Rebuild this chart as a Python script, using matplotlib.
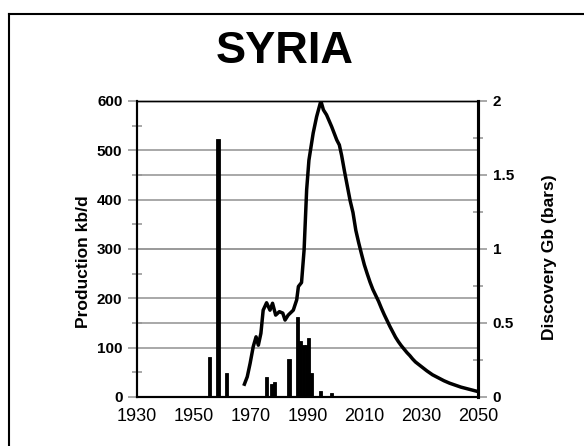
import matplotlib
matplotlib.use("Agg")
import matplotlib.pyplot as plt
from matplotlib.lines import Line2D
from matplotlib.ticker import MultipleLocator

plt.rcParams['font.family'] = ['Liberation Sans', 'DejaVu Sans']

# Production (kb/d)
prod_years = [1967.8, 1968.8, 1969.8, 1970.9, 1971.9, 1972.7, 1973.6, 1974.4, 1975.6,
              1976.8, 1977.7, 1978.8, 1980.1, 1981.3, 1982.1, 1983.2, 1985.0, 1986.2,
              1986.8, 1987.9, 1988.8, 1989.7, 1990.5, 1992.0, 1993.2, 1994.7, 1995.6,
              1996.7, 1998.5, 2000.3, 2001.2, 2002, 2003, 2004, 2005, 2006, 2007,
              2008, 2009, 2010, 2011, 2012, 2013, 2014, 2015, 2016, 2017, 2018, 2019,
              2020, 2021, 2022, 2023, 2024, 2025, 2026, 2027, 2028, 2030, 2032, 2034,
              2036, 2038, 2040, 2042, 2044, 2046, 2048, 2050]
prod_values = [26, 41, 68, 102, 122, 105, 129, 176, 191,
               176, 190, 166, 173, 170, 156, 166, 176, 197,
               224, 232, 298, 420, 480, 535, 568, 600, 582,
               572, 548, 521, 511, 490, 458, 428, 398, 374, 338,
               313, 290, 268, 250, 233, 218, 206, 194, 180, 167, 155, 143,
               132, 121, 112, 104, 97, 90, 84, 77, 71, 62, 53, 45,
               39, 33, 28, 24, 20, 17, 14, 11]

# Discoveries (Gb) by year
disc_years = [1948, 1955, 1958, 1961, 1963, 1966, 1968, 1973, 1975, 1977, 1978,
              1979, 1980, 1981, 1982, 1983, 1984, 1986, 1987, 1988, 1989, 1990,
              1991, 1992, 1994, 1996, 1998, 1999]
disc_values = [0.006, 0.27, 1.74, 0.165, 0.006, 0.006, 0.006, 0.006, 0.133, 0.09, 0.103,
               0.01, 0.01, 0.01, 0.01, 0.255, 0.01, 0.538, 0.38, 0.35, 0.35, 0.396,
               0.164, 0.006, 0.043, 0.006, 0.025, 0.006]

x_ticks = [1930, 1950, 1970, 1990, 2010, 2030, 2050]
left_ticks = [0, 100, 200, 300, 400, 500, 600]
right_ticks = [0, 0.5, 1, 1.5, 2]
right_labels = ['0', '0.5', '1', '1.5', '2']

W, H = 584, 446
fig = plt.figure(figsize=(W / 100, H / 100), dpi=100)
ax = fig.add_axes([137 / W, 1 - 397 / H, (478 - 137) / W, (397 - 101) / H])
ax2 = ax.twinx()
ax.set_zorder(ax2.get_zorder() + 1)
ax.patch.set_visible(False)

grid_col = '#999999'
# bars on the right axis
ax2.bar([y + 0.5 for y in disc_years], disc_values, width=1.1, color='black',
        edgecolor='black', linewidth=0.6, zorder=3)
ax2.set_ylim(0, 2)
ax2.set_yticks(right_ticks)
ax2.set_yticklabels(right_labels)
ax2.yaxis.set_minor_locator(MultipleLocator(0.25))
for v in right_ticks[1:-1]:
    ax2.axhline(v, color=grid_col, lw=1.2, zorder=1)
for v in left_ticks[1:-1]:
    ax2.axhline(v * 2 / 600, color=grid_col, lw=1.2, zorder=1)

# production on the left axis
ax.plot(prod_years, prod_values, color='black', lw=2.5, solid_joinstyle='round', zorder=4)
ax.set_xlim(1930, 2050)
ax.set_ylim(0, 600)
ax.set_xticks(x_ticks)
ax.set_yticks(left_ticks)
ax.yaxis.set_minor_locator(MultipleLocator(50))

ax.tick_params(axis='x', length=0, pad=8, labelsize=13)
ax.tick_params(axis='y', which='major', direction='out', length=6.5, width=1.2,
               color=grid_col, pad=4, labelsize=11)
ax.tick_params(axis='y', which='minor', direction='inout', length=7, width=1.2, color=grid_col)
ax2.tick_params(axis='y', which='major', direction='out', length=6.5, width=1.2,
                color=grid_col, pad=4, labelsize=11)
ax2.tick_params(axis='y', which='minor', direction='inout', length=7, width=1.2, color=grid_col)
for lab in ax.get_yticklabels() + ax2.get_yticklabels():
    lab.set_fontweight('bold')

for a in (ax, ax2):
    a.spines['top'].set_linewidth(1.0)
    a.spines['bottom'].set_linewidth(1.5)
    a.spines['left'].set_linewidth(1.5)
    a.spines['right'].set_linewidth(2.2)

ax.set_ylabel('Production kb/d', fontsize=12.5, fontweight='bold')
ax.yaxis.set_label_coords(-0.135, 0.456)
ax2.set_ylabel('Discovery Gb (bars)', fontsize=12.5, fontweight='bold')
ax2.yaxis.set_label_coords(1.187, 0.473)

fig.text(285 / W, 1 - 63 / H, 'SYRIA', fontsize=32.5, fontweight='bold',
         ha='center', va='baseline')

# outer frame (top and left edges)
fig.add_artist(Line2D([9 / W, 1], [1 - 14 / H, 1 - 14 / H], color='black', lw=1.5,
                      transform=fig.transFigure))
fig.add_artist(Line2D([9 / W, 9 / W], [0, 1 - 14 / H], color='black', lw=1.5,
                      transform=fig.transFigure))

fig.savefig('out.png', dpi=100)
